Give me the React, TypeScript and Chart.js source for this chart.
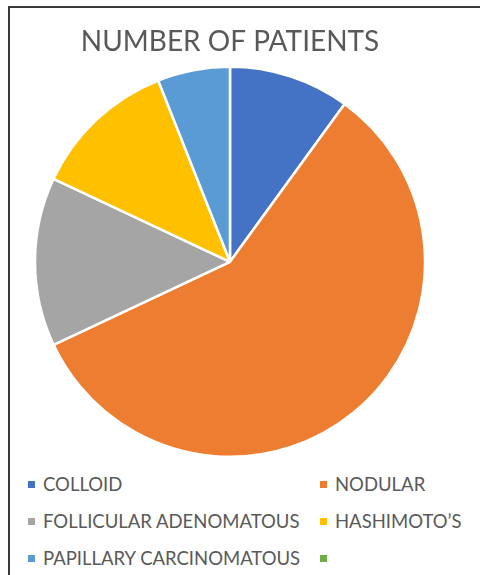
import React, { useEffect, useRef } from "react";
import { Chart, registerables } from "chart.js";

Chart.register(...registerables);

const categories = [
  "COLLOID",
  "NODULAR",
  "FOLLICULAR ADENOMATOUS",
  "HASHIMOTO\u2019S",
  "PAPILLARY CARCINOMATOUS",
  "",
];
const patients = [10, 58, 14, 12, 6, 0];
const sliceColors = ["#4472C4", "#ED7D31", "#A5A5A5", "#FFC000", "#5B9BD5", "#70AD47"];
const chartTitle = "NUMBER OF PATIENTS";

const textColor = "#595959";
const fontFamily = "Lato, 'Open Sans', 'Liberation Sans', sans-serif";

export default function App() {
  const canvasRef = useRef<HTMLCanvasElement | null>(null);

  useEffect(() => {
    document.body.style.margin = "0";
    const canvas = canvasRef.current;
    if (!canvas) return;
    const chart = new Chart(canvas, {
      type: "pie",
      data: {
        labels: categories,
        datasets: [
          {
            data: patients,
            backgroundColor: sliceColors,
            borderColor: "#ffffff",
            borderWidth: 2.5,
            hoverOffset: 0,
            radius: 195,
          },
        ],
      },
      options: {
        responsive: false,
        animation: false,
        layout: { padding: { left: 0, right: 20, top: 0, bottom: 8 } },
        plugins: {
          legend: { display: false },
          tooltip: { enabled: false },
          title: {
            display: true,
            text: chartTitle,
            color: textColor,
            font: { family: fontFamily, size: 28, weight: "normal", lineHeight: 1.2 },
            padding: { top: 25.5, bottom: 2.5 },
          },
        },
      },
    });
    return () => chart.destroy();
  }, []);

  const rowTops = [484, 521, 558];
  const colLefts = [28, 320];

  return (
    <div style={{ position: "absolute", left: 0, top: 0, width: 480, height: 575, overflow: "hidden", background: "#fff" }}>
      <div
        style={{
          position: "absolute",
          left: 8,
          top: 6,
          width: 500,
          height: 600,
          borderTop: "2px solid #3a3a3a",
          borderLeft: "2px solid #3a3a3a",
        }}
      />
      <canvas
        ref={canvasRef}
        width={480}
        height={470}
        style={{ position: "absolute", left: 0, top: 0, width: 480, height: 470 }}
      />
      {categories.map((label, i) => {
        const row = Math.floor(i / 2);
        const col = i % 2;
        return (
          <div
            key={i}
            style={{
              position: "absolute",
              left: colLefts[col],
              top: rowTops[row] - 12,
              height: 24,
              display: "flex",
              alignItems: "center",
              fontFamily,
              fontSize: 18.5,
              color: textColor,
              whiteSpace: "nowrap",
            }}
          >
            <span style={{ display: "inline-block", width: 7, height: 7, background: sliceColors[i], marginRight: 8 }} />
            <span>{label}</span>
          </div>
        );
      })}
    </div>
  );
}
